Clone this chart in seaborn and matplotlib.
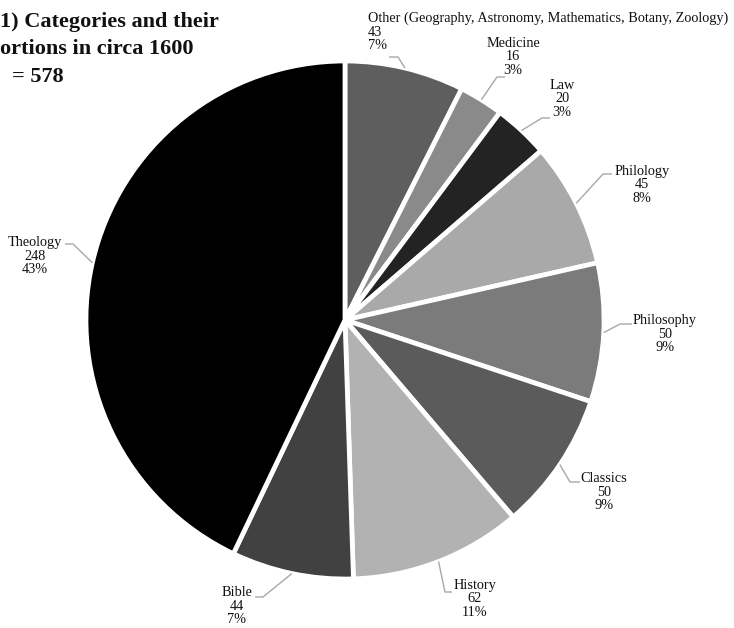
import numpy as np
import matplotlib
matplotlib.use("Agg")
import matplotlib.pyplot as plt
import seaborn as sns

# ---- data ----
categories = ["Other (Geography, Astronomy, Mathematics, Botany, Zoology)",
              "Medicine", "Law", "Philology", "Philosophy", "Classics",
              "History", "Bible", "Theology"]
counts = [43, 16, 20, 45, 50, 50, 62, 44, 248]
percents = ["7%", "3%", "3%", "8%", "9%", "9%", "11%", "7%", "43%"]
colors = ["#5e5e5e", "#8a8a8a", "#232323", "#a9a9a9", "#7b7b7b",
          "#5b5b5b", "#b2b2b2", "#414141", "#000000"]
title_lines = ["1) Categories and their", "ortions in circa 1600", "= 578"]

# ---- layout (pixel coords, y from top) ----
W, H = 734, 628
CX, CY, R = 345, 320, 259
LINE = 13.5
# text anchor (x, y-middle), horizontal alignment, elbow point, horizontal end
label_layout = [
    ((368, 32), "left", (398, 57), (389, 57)),
    ((513, 57), "center", (497, 77), (505, 77)),
    ((562, 99), "center", (542, 118), (550, 118)),
    ((642, 185), "center", (603, 174), (612, 174)),
    ((665, 334), "center", (620, 324), (632, 324)),
    ((604, 492), "center", (570, 482), (580, 482)),
    ((475, 599), "center", (445, 592), (452, 592)),
    ((237, 606), "center", (263, 597), (255, 597)),
    ((35, 256), "center", (73, 244), (65, 244)),
]

sns.set_style("white")
plt.rcParams["font.family"] = ["Liberation Serif", "DejaVu Serif"]

fig = plt.figure(figsize=(W / 100, H / 100), dpi=100)
ax = fig.add_axes([0, 0, 1, 1])

def Y(py):
    return H - py

explode = [0, 0, 0, 0, 0, 0, 0, 0, 0.015]
wedges, _ = ax.pie(counts, colors=colors, startangle=90, counterclock=False,
                   center=(CX, Y(CY)), radius=R, explode=explode,
                   wedgeprops=dict(edgecolor="white", linewidth=3.4))
ax.set_xlim(0, W)
ax.set_ylim(0, H)
ax.set_aspect("equal")
ax.axis("off")

for w, cat, n, p, (tpos, ha, elbow, hend) in zip(wedges, categories, counts, percents, label_layout):
    th = np.deg2rad((w.theta1 + w.theta2) / 2)
    cx, cy = w.center
    px, py = cx + w.r * np.cos(th), cy + w.r * np.sin(th)
    ax.plot([px, elbow[0], hend[0]], [py, Y(elbow[1]), Y(hend[1])],
            color="#a8a8a8", lw=1.0, solid_capstyle="butt")
    for i, line in enumerate([cat, str(n), p]):
        ax.text(tpos[0], Y(tpos[1] + (i - 1) * LINE), line, ha=ha, va="center",
                fontsize=10.3, color="#111111")

for i, line in enumerate(title_lines):
    x = 0 if i < 2 else 12
    ax.text(x, Y(22 + i * 27.5), line, ha="left", va="center", fontsize=16,
            fontweight="bold", color="#111111")

fig.savefig("out.png", dpi=100)
